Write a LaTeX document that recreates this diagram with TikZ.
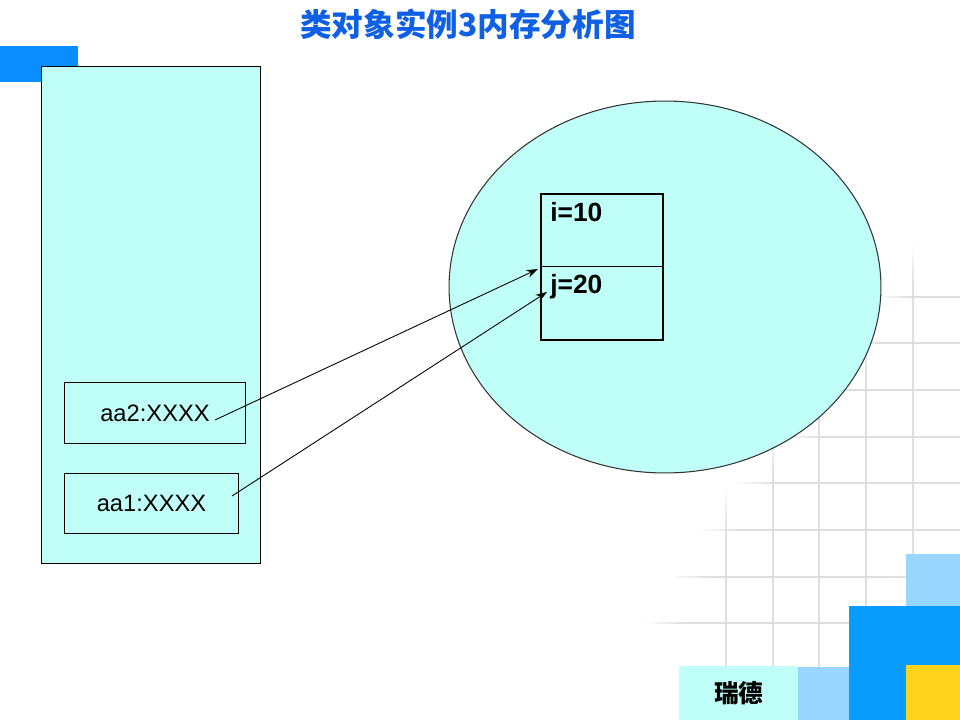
\documentclass[tikz,border=0pt]{standalone}
\usepackage{fontspec}
\setmainfont{Liberation Sans}
\newfontfamily\cjk{Noto Sans CJK SC}
\usetikzlibrary{arrows.meta, shapes.geometric}
\definecolor{memcyan}{RGB}{192,255,248}
\definecolor{tabblue}{RGB}{10,142,255}
\definecolor{deepblue}{RGB}{8,156,255}
\definecolor{paleblue}{RGB}{153,214,255}
\definecolor{gold}{RGB}{255,210,28}
\definecolor{titleblue}{RGB}{16,96,230}
\definecolor{gridgray}{RGB}{222,222,222}

\begin{document}
\begin{tikzpicture}[x=0.02cm,y=-0.02cm,
  box/.style={draw,fill=memcyan,line width=0.6pt,anchor=north west,inner sep=0pt},
  gridline/.style={gridgray,line width=1.3pt},
  ref/.style={-{Stealth[length=6.5pt,width=4.5pt]},line width=0.5pt}]
\useasboundingbox (0,0) rectangle (960,720);
% Faint grid in the lower right corner, fading out to the upper left
\foreach \y/\s in {296.7/913,343.3/880,390/850,436.7/820,483.3/775,530/740,576.7/710,623.3/685}{
  \draw[gridline] (\s,\y) -- (960,\y);
  \foreach \k [evaluate=\k as \op using int(10+\k*12)] in {0,...,7}
    \draw[gridline,gridgray!\op] (\s-40+\k*5,\y) -- (\s-35+\k*5,\y);
}
\foreach \x/\s in {912.7/285,866/370,819.3/417,772.7/473,726/530}{
  \draw[gridline] (\x,\s) -- (\x,720);
  \foreach \k [evaluate=\k as \op using int(10+\k*12)] in {0,...,7}
    \draw[gridline,gridgray!\op] (\x,\s-40+\k*5) -- (\x,\s-35+\k*5);
}
% Coloured blocks of the footer
\fill[paleblue] (906,554) rectangle (960,606);
\fill[deepblue] (849,606) rectangle (960,720);
\fill[gold] (906,665) rectangle (960,720);
\fill[paleblue] (798,667) rectangle (849,720);
\node[fill=memcyan,minimum width=2.38cm,minimum height=1.08cm,anchor=north west,inner sep=0pt,
  font=\cjk\bfseries\fontsize{14}{14}\selectfont] (brand) at (679,666) {瑞德};
% Title and the tab at the top left
\node[text=titleblue,font=\cjk\bfseries\fontsize{18}{18}\selectfont] (title) at (468,24) {类对象实例3内存分析图};
\fill[tabblue] (0,46) rectangle (78,82);
% Stack with the two references
\node[box,minimum width=4.38cm,minimum height=9.94cm] (stack) at (41,66) {};
\node[box,minimum width=3.62cm,minimum height=1.22cm,font=\fontsize{13.5}{14}\selectfont] (aa2) at (64,382) {aa2:XXXX};
\node[box,minimum width=3.48cm,minimum height=1.2cm,font=\fontsize{13.5}{14}\selectfont] (aa1) at (64,473) {aa1:XXXX};
% Heap with the object
\node[draw=black!80,fill=memcyan,ellipse,line width=0.6pt,inner sep=0pt,
  minimum width=8.64cm,minimum height=7.44cm] (heap) at (665,287) {};
\node[draw,line width=1.4pt,minimum width=2.44cm,minimum height=2.92cm,anchor=north west,inner sep=0pt] (obj) at (540,193) {};
\draw[line width=0.5pt] (obj.west |- 0,266) -- (obj.east |- 0,266);
\node[anchor=base west,inner sep=0pt,font=\bfseries\fontsize{15}{15}\selectfont] (ival) at (550,221) {i=10};
\node[anchor=base west,inner sep=0pt,font=\bfseries\fontsize{15}{15}\selectfont] (jval) at (550,293) {j=20};
% Both references point at the object
\coordinate (aa2end) at (215,420);
\coordinate (aa1end) at (232,496);
\coordinate (ipoint) at (538,269);
\coordinate (jpoint) at (547,292);
\draw[ref] (aa2end) -- (ipoint);
\draw[ref] (aa1end) -- (jpoint);
\end{tikzpicture}
\end{document}
